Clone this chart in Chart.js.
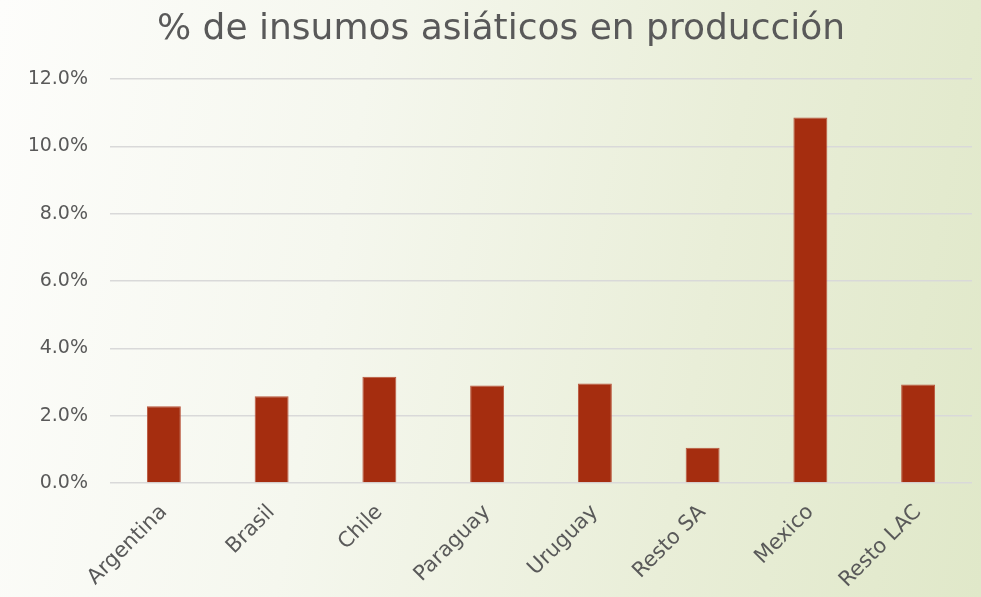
<!DOCTYPE html>
<html>
<head>
<meta charset="utf-8">
<script src="https://cdn.jsdelivr.net/npm/chart.js@4.4.0/dist/chart.umd.min.js"></script>
<style>
  html, body {
    margin: 0;
    padding: 0;
    width: 981px;
    height: 597px;
    overflow: hidden;
    background: linear-gradient(100deg, #fdfdfb 0%, #f5f7ee 35%, #e9eed8 70%, #e0e8c9 100%);
  }
  #wrap { width: 981px; height: 597px; position: relative; }
</style>
</head>
<body>
<div id="wrap"><canvas id="insumosChart"></canvas></div>
<script>
// Países y % de insumos asiáticos en la producción
const paises = ["Argentina", "Brasil", "Chile", "Paraguay", "Uruguay", "Resto SA", "Mexico", "Resto LAC"];
const porcentajes = [2.28, 2.58, 3.16, 2.90, 2.96, 1.05, 10.86, 2.93];
const ticksY = [0, 2, 4, 6, 8, 10, 12];

const gris = "#595959";
const fuente = "'DejaVu Sans', sans-serif";

const data = {
  labels: paises,
  datasets: [
    {
      label: "% de insumos asiáticos",
      data: porcentajes,
      backgroundColor: "#a52d0f",
      borderColor: "#b9553c",
      borderWidth: 1,
      barPercentage: 0.63,
      categoryPercentage: 0.5,
    },
  ],
};

const config = {
  type: "bar",
  data: data,
  options: {
    responsive: true,
    maintainAspectRatio: false,
    animation: false,
    layout: { padding: { left: 30, right: 9, top: 0, bottom: 0 } },
    scales: {
      y: {
        min: 0,
        max: 12,
        afterBuildTicks: (axis) => {
          axis.ticks = ticksY.map((v) => ({ value: v }));
        },
        afterFit: (axis) => {
          axis.width = 80;
        },
        border: { display: false },
        grid: { color: "#d9d9d9", lineWidth: 1.5, drawTicks: false },
        ticks: {
          color: gris,
          font: { family: fuente, size: 19 },
          padding: 22,
          callback: (v) => v.toFixed(1) + "%",
        },
      },
      x: {
        afterFit: (axis) => {
          axis.height = 114;
        },
        border: { display: false },
        grid: { display: false },
        ticks: {
          color: gris,
          font: { family: fuente, size: 21 },
          maxRotation: 45,
          minRotation: 45,
          padding: 9,
        },
      },
    },
    plugins: {
      legend: { display: false },
      tooltip: { enabled: false },
      title: {
        display: true,
        text: "% de insumos asiáticos en producción",
        color: gris,
        font: { family: fuente, size: 36, weight: "normal" },
        padding: { top: 8, bottom: 28 },
      },
    },
  },
};

const insumosChart = new Chart(document.getElementById("insumosChart"), config);
</script>
</body>
</html>
